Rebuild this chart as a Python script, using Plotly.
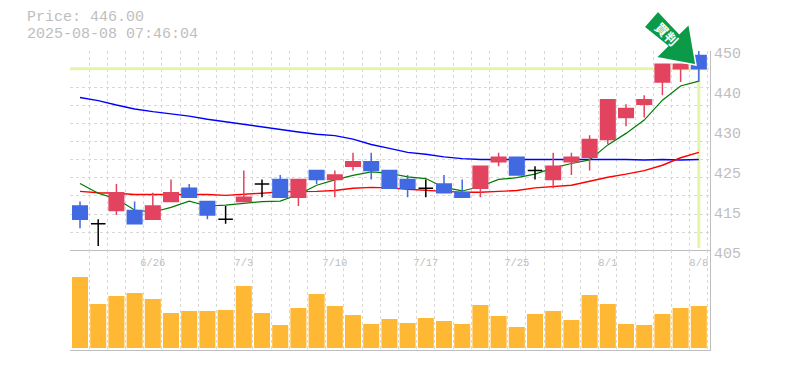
import plotly.graph_objects as go

dates = ["6/20","6/23","6/24","6/25","6/26","6/27","6/30","7/1","7/2","7/3","7/4","7/7","7/8","7/9","7/10","7/11","7/14","7/15","7/16","7/17","7/18","7/22","7/23","7/24","7/25","7/28","7/29","7/30","7/31","8/1","8/4","8/5","8/6","8/7","8/8"]
opens  = [415,411,414,414,412,416,419,416,412,416,420,421,417,423,421,424,425,423,421,419,420,418,419,425,426,423,421,425,426,430,435,438,443,446,449]
highs  = [416,412,420,416,418,421,420,416,415,423,421,422,421,423,423,427,427,423,422,421,422,421,424,427,426,424,427,427,431,439,438,440,447,447,450]
lows   = [410,406,413,411,412,416,417,412,411,416,417,417,415,420,417,423,421,419,417,417,418,417,417,424,422,421,419,422,423,429,433,435,440,443,443]
closes = [412,411,418,411,415,418,417,413,412,417,420,417,421,421,422,425,423,419,419,419,418,417,424,426,422,423,424,426,430,439,437,439,447,447,446]
ma_short = [420.1,417.9,416.6,414.1,413.6,414.7,416.1,415.0,415.2,415.6,416.0,416.1,417.6,419.7,420.9,421.9,422.7,422.4,421.6,421.2,419.2,418.4,419.4,421.0,421.4,422.2,423.6,424.6,425.4,428.8,431.4,434.4,438.9,442.1,443.2]
ma_mid = [418.3,418.0,417.9,417.6,417.6,417.6,417.7,417.6,417.4,417.6,417.9,418.2,418.2,418.3,418.5,419.0,419.2,419.1,418.8,418.5,418.3,418.1,418.1,418.3,418.5,419.1,419.4,419.7,420.6,421.5,422.2,423.0,424.2,425.9,427.1]
ma_long = [439.5,438.8,437.8,436.9,436.3,435.8,435.3,434.6,434.0,433.5,432.8,432.2,431.7,431.2,430.9,430.1,428.9,428.0,427.1,426.7,426.1,425.7,425.5,425.5,425.5,425.5,425.6,425.6,425.5,425.5,425.5,425.4,425.5,425.4,425.5]
volumes = [71,44,52,55,49,35,37,37,38,62,35,23,40,54,42,33,24,29,25,30,27,24,43,32,21,34,37,28,53,44,24,23,34,40,42]
price_now = 446
tick_dates = ["6/26","7/3","7/10","7/17","7/25","8/1","8/8"]
price_labels = ["405","415","425","430","440","450"]
price_label_pos = [405,414,423,432,441,450]

GRID = "#D8D8D8"; AXIS = "#BEBEBE"; TXT = "#BEBEBE"
MONO = "Liberation Mono"
n = len(dates)
xs = list(range(n))
tick_pos = [dates.index(d) for d in tick_dates]
x_grid = [i - 0.5 for i in range(n + 1)]
y_grid = [405 + k * 45 / 11 for k in range(1, 12)]
XR = [-0.55, 34.615]; YR = [405, 450]

solid = [i for i in xs if opens[i] != closes[i]]
doji = [i for i in xs if opens[i] == closes[i]]
pick = lambda a, idx: [a[i] for i in idx]

fig = go.Figure()
LEVEL = "#E3F5A8"
fig.add_trace(go.Scatter(x=[-0.55, n - 0.45], y=[price_now, price_now], mode="lines", line=dict(color=LEVEL, width=3)))
fig.add_trace(go.Scatter(x=[n - 1, n - 1], y=[price_now, 405.5], mode="lines", line=dict(color=LEVEL, width=3)))
RED = "#E2435F"; BLUE = "#4169E1"
fig.add_trace(go.Scatter(x=xs, y=ma_long, mode="lines", line=dict(color="#0000FF", width=1.4)))
fig.add_trace(go.Scatter(x=xs, y=ma_mid, mode="lines", line=dict(color="#FF0000", width=1.4)))
fig.add_trace(go.Scatter(x=xs, y=ma_short, mode="lines", line=dict(color="#007A00", width=1.2)))
fig.add_trace(go.Candlestick(x=pick(xs, solid), open=pick(opens, solid), high=pick(highs, solid), low=pick(lows, solid), close=pick(closes, solid),
    increasing=dict(line=dict(color=RED, width=1.5), fillcolor=RED), decreasing=dict(line=dict(color=BLUE, width=1.5), fillcolor=BLUE), whiskerwidth=0, xaxis="x3", yaxis="y3"))
fig.add_trace(go.Candlestick(x=pick(xs, doji), open=pick(opens, doji), high=pick(highs, doji), low=pick(lows, doji), close=pick(closes, doji),
    increasing=dict(line=dict(color="#000000", width=1.5), fillcolor="#000000"), decreasing=dict(line=dict(color="#000000", width=1.5), fillcolor="#000000"), whiskerwidth=0, xaxis="x3", yaxis="y3"))
fig.add_trace(go.Bar(x=xs, y=volumes, marker=dict(color="#FFB833", line_width=0), width=0.88, xaxis="x2", yaxis="y2"))

def px(x, y):
    return f"{(x - 70) / 640:.4f},{(350 - y) / 299:.4f}"
arrow_pts = [(658, 11), (644, 27), (667.5, 46), (656, 57.5), (696, 65), (689, 24), (679.3, 33.5)]
arrow_path = "M" + " L".join(px(*p) for p in arrow_pts) + " Z"

xminor = dict(tickmode="array", tickvals=x_grid, showgrid=True, gridcolor=GRID, griddash="3px,3px", gridwidth=1, ticklen=0)
fig.update_layout(
    width=785, height=370, autosize=False, showlegend=False, paper_bgcolor="white", plot_bgcolor="white",
    margin=dict(l=70, r=75, t=51, b=20, autoexpand=False), boxmode="overlay", boxgap=0.2, boxgroupgap=0, bargap=0.12, hovermode=False,
    xaxis=dict(domain=[0, 1], range=XR, anchor="y", tickmode="array", tickvals=tick_pos, ticktext=tick_dates,
               showgrid=False, zeroline=False, rangeslider=dict(visible=False), showline=True, linecolor=AXIS, linewidth=1,
               ticks="", ticklabelstandoff=2, tickfont=dict(family=MONO, size=10.5, color=TXT), minor=xminor),
    xaxis2=dict(domain=[0, 1], range=XR, anchor="y2", showticklabels=False, showgrid=False, zeroline=False,
                showline=True, linecolor=AXIS, linewidth=1, ticks="", minor=xminor, rangeslider=dict(visible=False)),
    xaxis3=dict(domain=[0, 1], range=XR, overlaying="x", anchor="y3", visible=False, rangeslider=dict(visible=False)),
    yaxis=dict(domain=[0.3334, 1], range=YR, side="right", tickmode="array", tickvals=price_label_pos, ticktext=price_labels,
               showgrid=False, zeroline=False, showline=True, linecolor=AXIS, linewidth=1, ticks="", ticklen=0, ticklabelshift=2,
               tickfont=dict(family=MONO, size=15, color=TXT),
               minor=dict(tickmode="array", tickvals=y_grid, showgrid=True, gridcolor=GRID, griddash="3px,3px", gridwidth=1, ticklen=0)),
    yaxis2=dict(domain=[0, 0.3334], range=[-2, 97.7], side="right", showticklabels=False, showgrid=False, zeroline=False,
                showline=True, linecolor=AXIS, linewidth=1, ticks=""),
    yaxis3=dict(domain=[0.3334, 1], range=YR, overlaying="y", anchor="x3", side="right", visible=False),
    shapes=[dict(type="path", xref="paper", yref="paper", path=arrow_path, fillcolor="#0A9A48", line=dict(color="white", width=1.5), layer="above")],
    annotations=[
        dict(text="Price: 446.00", xref="paper", yref="paper", x=-0.071, y=(350 - 17.3) / 299, xanchor="left", yanchor="middle", showarrow=False, font=dict(family=MONO, size=15, color=TXT)),
        dict(text="2025-08-08 07:46:04", xref="paper", yref="paper", x=-0.071, y=(350 - 34.3) / 299, xanchor="left", yanchor="middle", showarrow=False, font=dict(family=MONO, size=15, color=TXT)),
        dict(text="<b>買判</b>", xref="paper", yref="paper", x=(666.5 - 70) / 640, y=(350 - 33.5) / 299, xanchor="center", yanchor="middle", showarrow=False, textangle=45, font=dict(family="Noto Sans CJK JP", size=13, color="white")),
    ],
)
fig.write_html("out.html", post_script="document.body.style.margin='0';", config=dict(displayModeBar=False))
